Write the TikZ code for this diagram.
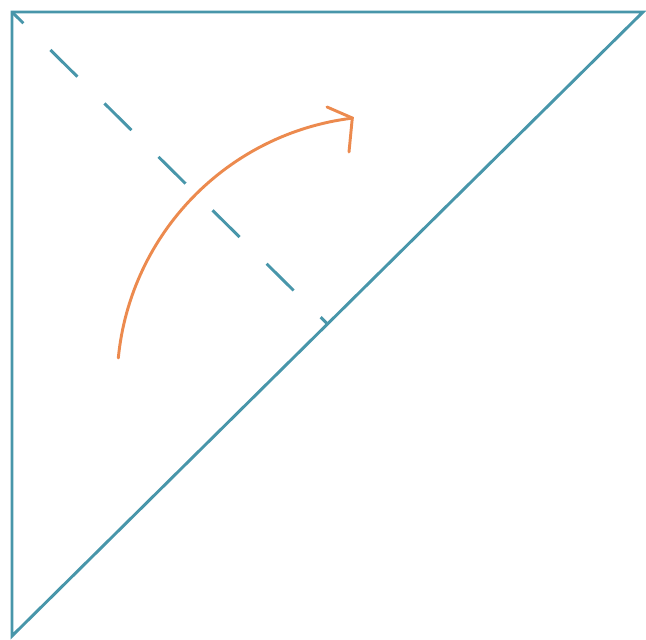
\documentclass[tikz,border=0pt]{standalone}
\usetikzlibrary{calc}
\definecolor{edgeblue}{RGB}{72,150,170}
\definecolor{arcorange}{RGB}{236,138,78}
\begin{document}
\begin{tikzpicture}[x=0.75pt,y=0.75pt,
  edge/.style={draw=edgeblue,line width=2.2pt,line join=miter},
  altline/.style={draw=edgeblue,line width=2.2pt,dash pattern=on 28.5pt off 28.5pt,dash phase=16.5pt},
  turn/.style={draw=arcorange,line width=2.2pt,line cap=round,line join=miter}]
\useasboundingbox (0,0) rectangle (646,639);
% triangle vertices
\coordinate (A) at (12,627);
\coordinate (B) at (643,627);
\coordinate (C) at (12,3);
\coordinate (M) at ($(B)!0.5!(C)$);
\draw[edge] (A) -- (B) -- (C) -- cycle;
% dashed altitude to hypotenuse
\draw[altline] (A) -- (M);
% orange arc with open arrowhead
\coordinate (S) at (118.3,281);
\coordinate (T) at (352.3,521);
\coordinate (H1) at (327,532);
\coordinate (H2) at (349,487);
\draw[turn] (S) arc[start angle=174.4,end angle=97,radius=268];
\draw[turn] (H1) -- (T) -- (H2);
\end{tikzpicture}
\end{document}
